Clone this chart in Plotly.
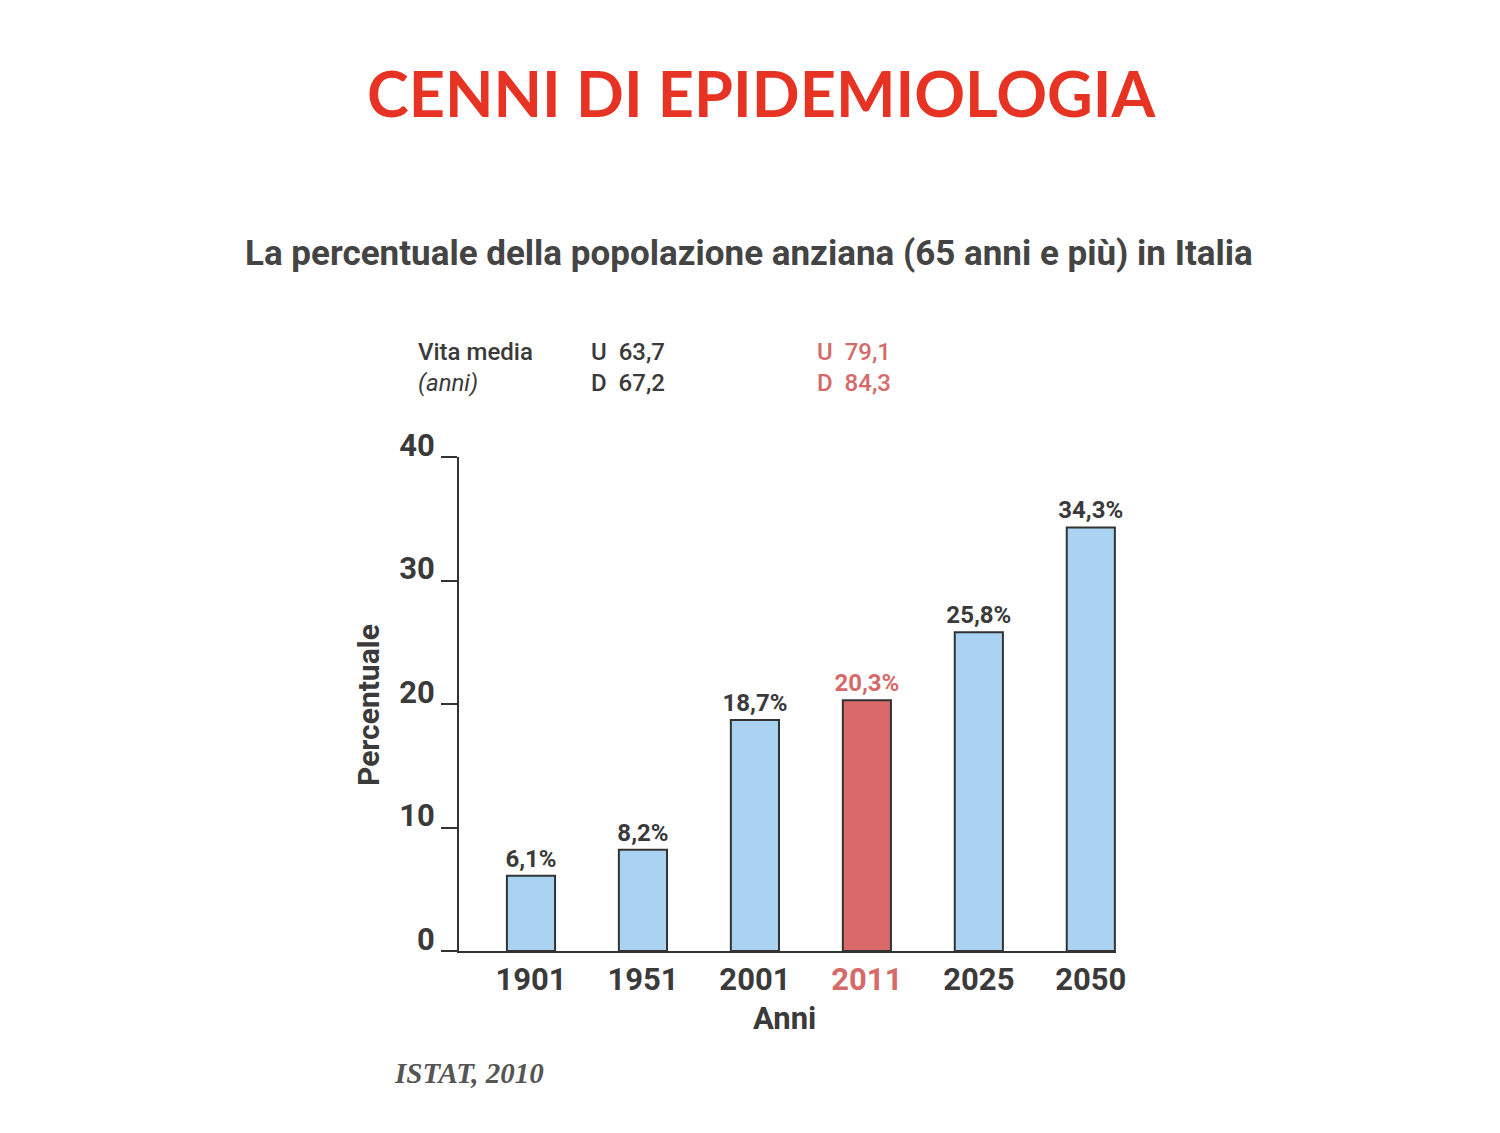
import plotly.graph_objects as go

years = ["1901", "1951", "2001", "2011", "2025", "2050"]
percent = [6.1, 8.2, 18.7, 20.3, 25.8, 34.3]
highlight_year = "2011"
y_ticks = [0, 10, 20, 30, 40]

life_label = ["Vita media", "(anni)"]
life_1901 = ["U  63,7", "D  67,2"]
life_2011 = ["U  79,1", "D  84,3"]

title_text = "CENNI DI EPIDEMIOLOGIA"
subtitle_text = "La percentuale della popolazione anziana (65 anni e più) in Italia"
x_title = "Anni"
y_title = "Percentuale"
source_text = "ISTAT, 2010"

BLUE = "#a9d3f1"
RED = "#d9696a"
RED_TXT = "#d46a6a"
DARK = "#3a3a3a"
FONT = "Roboto, Liberation Sans, Arial"

OFF = 8  # page body margin
W, H = 1500 - 2 * OFF, 1133 - 2 * OFF
L, R, T, B = 459, 1116, 457, 951  # plot area in window pixels
X_RANGE = [-0.643, 5.225]


def px(x):
    return (x - L) / (R - L)


def py(y):
    return (B - y) / (B - T)


bar_colors = [RED if y == highlight_year else BLUE for y in years]
txt_colors = [RED_TXT if y == highlight_year else DARK for y in years]
labels = [f"{v:.1f}".replace(".", ",") + "%" for v in percent]
ticktext = [f"<span style='color:{RED_TXT}'>{y}</span>" if y == highlight_year else y for y in years]

fig = go.Figure(go.Bar(
    x=years, y=percent, width=0.43,
    marker=dict(color=bar_colors, line=dict(color="#333333", width=2)),
    text=labels, textposition="outside", cliponaxis=False, constraintext="none",
    textfont=dict(family=FONT, size=24, color=txt_colors, weight="bold"),
    hoverinfo="skip",
))

fig.update_layout(
    width=W, height=H,
    margin=dict(l=L - OFF, r=W - (R - OFF), t=T - OFF, b=H - (B - OFF), pad=0),
    paper_bgcolor="white", plot_bgcolor="white",
    showlegend=False,
    font=dict(family=FONT, color=DARK),
)

fig.update_xaxes(
    type="category", range=X_RANGE,
    tickvals=years, ticktext=ticktext,
    showline=True, linecolor="#333333", linewidth=2,
    ticks="", showgrid=False, zeroline=False,
    tickfont=dict(family=FONT, size=31, color=DARK, weight="bold"),
)

fig.update_yaxes(
    range=[0, 40], tickvals=y_ticks,
    showline=True, linecolor="#333333", linewidth=2,
    ticks="outside", ticklen=16, tickwidth=2, tickcolor="#333333",
    showgrid=False, zeroline=False,
    ticklabelshift=-12, ticklabelstandoff=0,
    tickfont=dict(family=FONT, size=31, color=DARK, weight="bold"),
)

ann = []
ann.append(dict(x=px(761), y=py(93), text=f"<b>{title_text}</b>", showarrow=False,
                xanchor="center", yanchor="middle",
                font=dict(family="Lato, Open Sans", size=63, color="#e63324")))
ann.append(dict(x=px(749), y=py(253), text=f"<b>{subtitle_text}</b>", showarrow=False,
                xanchor="center", yanchor="middle",
                font=dict(family=FONT, size=35, color="#444444")))
ann.append(dict(x=px(416), y=py(352), text=life_label[0], showarrow=False,
                xanchor="left", yanchor="middle", font=dict(family=FONT, size=24, color=DARK, weight=500)))
ann.append(dict(x=px(416), y=py(383), text=f"<i>{life_label[1]}</i>", showarrow=False,
                xanchor="left", yanchor="middle", font=dict(family=FONT, size=24, color=DARK)))
for i, (a, b) in enumerate(zip(life_1901, life_2011)):
    yy = 352 + 31 * i
    ann.append(dict(x=px(589), y=py(yy), text=a, showarrow=False,
                    xanchor="left", yanchor="middle", font=dict(family=FONT, size=24, color=DARK, weight=500)))
    ann.append(dict(x=px(815), y=py(yy), text=b, showarrow=False,
                    xanchor="left", yanchor="middle", font=dict(family=FONT, size=24, color=RED_TXT, weight=500)))
ann.append(dict(x=px(784), y=py(1018), text=f"<b>{x_title}</b>", showarrow=False,
                xanchor="center", yanchor="middle", font=dict(family=FONT, size=31, color=DARK)))
ann.append(dict(x=px(368), y=py(705), text=f"<b>{y_title}</b>", showarrow=False, textangle=-90,
                xanchor="center", yanchor="middle", font=dict(family=FONT, size=30, color=DARK)))
ann.append(dict(x=px(392), y=py(1073), text=f"<b><i>{source_text}</i></b>", showarrow=False,
                xanchor="left", yanchor="middle",
                font=dict(family="Liberation Serif, Times New Roman", size=29, color="#555555")))
for a in ann:
    a.update(xref="paper", yref="paper")
fig.update_layout(annotations=ann)

fig.write_html("out.html")
